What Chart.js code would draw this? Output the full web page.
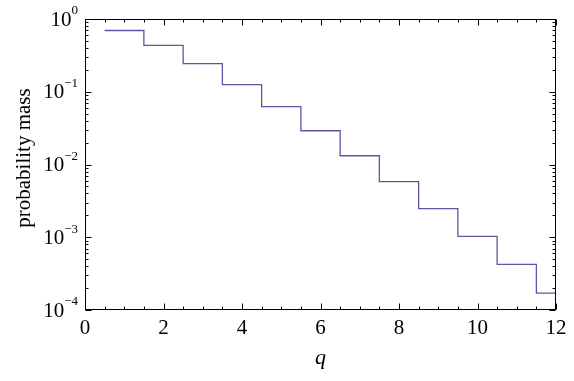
<!doctype html>
<html lang="en">
  <head>
    <meta charset="utf-8">
    <title>probability mass vs q</title>
    <style>
      * { margin: 0; padding: 0; }
      body { background: #fff; }
      .chartBox { width: 574px; height: 381px; }
    </style>
  </head>
  <body>
    <div class="chartBox">
      <canvas id="myChart"></canvas>
    </div>
    <script src="https://cdn.jsdelivr.net/npm/chart.js"></script>
    <script>
    // data
    const q = [1, 2, 3, 4, 5, 6, 7, 8, 9, 10, 11, 12];
    const mass = [0.695, 0.435, 0.244, 0.125, 0.0624, 0.0291, 0.0132, 0.00583, 0.00248, 0.00103, 0.000425, 0.000171];
    const xTicks = [0, 2, 4, 6, 8, 10, 12];
    const yExponents = [-4, -3, -2, -1, 0];

    // each q holds its value over [q-0.5, q+0.5]
    const points = q.map((v, i) => ({ x: v - 0.5, y: mass[i] }));
    points.push({ x: q[q.length - 1] + 0.5, y: mass[mass.length - 1] });

    const serif = '"Liberation Serif", "Times New Roman", serif';

    // frame, inward ticks, y labels with superscripts, y title
    const framePlugin = {
      id: 'frame',
      afterDraw(chart) {
        const { ctx, chartArea: a, scales: { x, y } } = chart;
        ctx.save();
        ctx.strokeStyle = '#000';
        ctx.lineWidth = 1;
        const L = Math.round(a.left) + 0.5, R = Math.round(a.right) - 0.5;
        const T = Math.round(a.top) + 0.5, B = Math.round(a.bottom) - 0.5;
        ctx.strokeRect(L, T, R - L, B - T);

        ctx.beginPath();
        // x ticks every 0.5, longer at labelled ones
        for (let v = 0; v <= 12.001; v += 0.5) {
          const px = Math.round(x.getPixelForValue(v)) + 0.5;
          const len = xTicks.includes(v) ? 6 : 3;
          ctx.moveTo(px, B); ctx.lineTo(px, B - len);
          ctx.moveTo(px, T); ctx.lineTo(px, T + len);
        }
        // y ticks, decades and minors
        for (let e = -4; e <= 0; e++) {
          for (let m = 1; m <= 9; m++) {
            const v = m * Math.pow(10, e);
            if (v > 1.0001) break;
            const py = Math.round(y.getPixelForValue(v)) + 0.5;
            const len = m === 1 ? 6 : 3;
            ctx.moveTo(L, py); ctx.lineTo(L + len, py);
            ctx.moveTo(R, py); ctx.lineTo(R - len, py);
          }
        }
        ctx.stroke();

        // y tick labels 10^n
        ctx.fillStyle = '#000';
        ctx.textBaseline = 'middle';
        const xr = a.left - 7;
        yExponents.forEach(e => {
          const py = y.getPixelForValue(Math.pow(10, e));
          const exp = e < 0 ? '\u2212' + (-e) : String(e);
          ctx.font = '13px ' + serif;
          const ew = ctx.measureText(exp).width;
          ctx.textAlign = 'left';
          ctx.fillText(exp, xr - ew, py - 8);
          ctx.font = '21px ' + serif;
          ctx.textAlign = 'right';
          ctx.fillText('10', xr - ew, py + 1);
        });

        // y axis title
        ctx.translate(24, 158);
        ctx.rotate(-Math.PI / 2);
        ctx.textAlign = 'center';
        ctx.font = '21px ' + serif;
        ctx.fillText('probability mass', 0, 0);
        ctx.restore();
      }
    };

    const config = {
      type: 'line',
      data: {
        datasets: [{
          data: points,
          stepped: 'before',
          borderColor: 'rgb(88, 88, 160)',
          borderWidth: 1.3,
          pointRadius: 0,
          fill: false
        }]
      },
      options: {
        responsive: true,
        maintainAspectRatio: false,
        animation: false,
        layout: { padding: { top: 19, right: 18, left: 0, bottom: 0 } },
        plugins: { legend: { display: false }, tooltip: { enabled: false } },
        scales: {
          x: {
            type: 'linear',
            min: 0,
            max: 12,
            grid: { display: false, drawTicks: false },
            border: { display: false },
            afterBuildTicks(scale) {
              scale.ticks = xTicks.map(v => ({ value: v }));
            },
            afterFit(scale) { scale.height = 71; },
            ticks: {
              color: '#000',
              padding: 6,
              maxRotation: 0,
              font: { family: serif, size: 21 }
            },
            title: {
              display: true,
              text: 'q',
              color: '#000',
              padding: { top: 0, bottom: 10 },
              font: { family: serif, size: 22, style: 'italic' }
            }
          },
          y: {
            type: 'logarithmic',
            min: 1e-4,
            max: 1,
            grid: { display: false, drawTicks: false },
            border: { display: false },
            ticks: { display: false },
            afterFit(scale) { scale.width = 85; }
          }
        }
      },
      plugins: [framePlugin]
    };

    const myChart = new Chart(document.getElementById('myChart'), config);
    </script>
  </body>
</html>
